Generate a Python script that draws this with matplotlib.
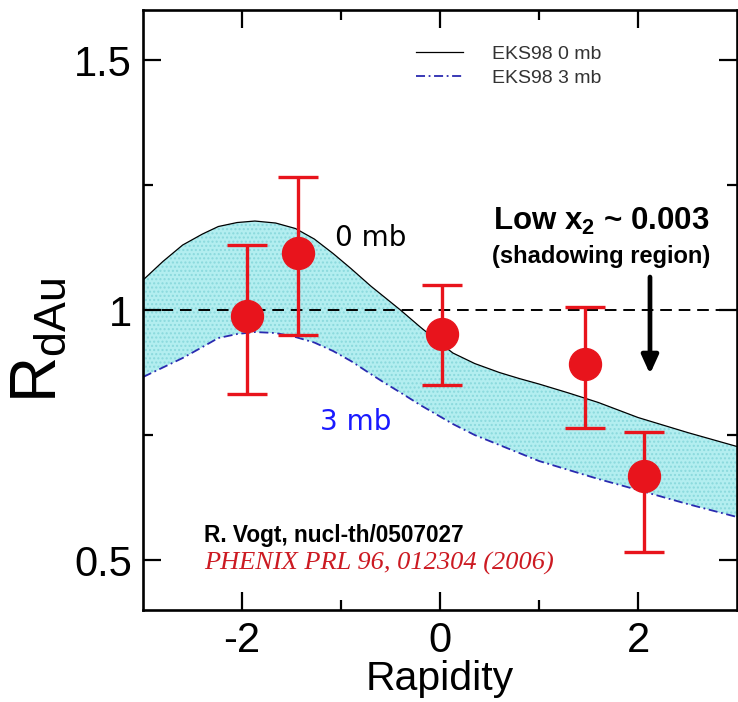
import matplotlib
matplotlib.use("Agg")
import matplotlib.pyplot as plt

# PHENIX J/psi R_dAu vs rapidity
y_data = [-1.95, -1.43, 0.02, 1.46, 2.06]
r_data = [0.988, 1.114, 0.952, 0.892, 0.669]
err_hi = [0.143, 0.152, 0.099, 0.114, 0.088]
err_lo = [0.155, 0.164, 0.102, 0.127, 0.153]

# EKS98 shadowing curves (0 mb and 3 mb absorption)
curve_y = [-3.0, -2.8, -2.6, -2.4, -2.24, -2.05, -1.87, -1.66, -1.46, -1.27, -1.08, -0.9,
           -0.7, -0.55, -0.4, -0.2, 0.0, 0.13, 0.35, 0.6, 0.8, 1.0, 1.3, 1.6, 2.0, 2.5, 3.0]
eks_0mb = [1.06, 1.097, 1.13, 1.152, 1.167, 1.175, 1.178, 1.174, 1.163, 1.142, 1.113, 1.083,
           1.048, 1.024, 1.0, 0.966, 0.934, 0.914, 0.893, 0.875, 0.863, 0.852, 0.834, 0.815,
           0.785, 0.755, 0.727]
eks_3mb = [0.866, 0.885, 0.904, 0.926, 0.944, 0.952, 0.956, 0.954, 0.946, 0.935, 0.918, 0.898,
           0.872, 0.853, 0.835, 0.81, 0.787, 0.772, 0.75, 0.73, 0.714, 0.698, 0.68, 0.662,
           0.64, 0.612, 0.586]

plt.rcParams["font.family"] = ["Liberation Sans", "DejaVu Sans"]
plt.rcParams["axes.unicode_minus"] = False

fig = plt.figure(figsize=(7.38, 7.02), dpi=100)
ax = fig.add_axes([0.1938, 0.131, 0.805, 0.8547])

ax.fill_between(curve_y, eks_3mb, eks_0mb, facecolor="#b3eef0",
                edgecolor="#8ad9dd", hatch="....", linewidth=0, zorder=1)
ax.plot(curve_y, eks_0mb, color="black", lw=0.9, zorder=2, label="EKS98 0 mb")
ax.plot(curve_y, eks_3mb, color="#2a2ab0", lw=1.3, ls=(0, (5, 2, 1, 2)),
        zorder=2, label="EKS98 3 mb")
ax.axhline(1.0, color="black", lw=1.4, ls=(0, (6, 3.5)), zorder=2)

ax.errorbar(y_data, r_data, yerr=[err_lo, err_hi], fmt="o", color="#e8141c",
            ms=23, elinewidth=2.4, capsize=14.5, capthick=2.4, zorder=4)

ax.set_xlim(-3, 3)
ax.set_ylim(0.4, 1.6)
ax.set_xticks([-2, 0, 2])
ax.set_xticks([-1, 1], minor=True)
ax.set_yticks([0.5, 1.0, 1.5])
ax.set_yticklabels(["0.5", "1", "1.5"])
ax.set_yticks([0.75, 1.25], minor=True)
ax.tick_params(which="both", direction="in", top=True, right=True,
               width=1.6, labelsize=30)
ax.tick_params(which="major", length=13, pad=8)
ax.tick_params(which="minor", length=7)
for s in ax.spines.values():
    s.set_linewidth(1.9)

ax.set_xlabel("Rapidity", fontsize=29.5, labelpad=-1)
ax.set_ylabel(r"R$_{\mathregular{dAu}}$", fontsize=46)
ax.yaxis.set_label_coords(-0.125, 0.45)

leg = ax.legend(loc="upper left", bbox_to_anchor=(0.43, 0.97), frameon=False,
                fontsize=14, handlelength=2.4, handletextpad=1.5, labelspacing=0.3)
for t in leg.get_texts():
    t.set_color("#333333")

ax.text(-0.7, 1.145, "0 mb", fontsize=20, color="black", ha="center", va="center",
        family="DejaVu Sans")
ax.text(-0.85, 0.777, "3 mb", fontsize=20, color="#1a1aff", ha="center", va="center",
        family="DejaVu Sans")

ax.text(1.63, 1.178, r"Low x$_{\mathregular{2}}$ ~ 0.003", fontsize=22.5,
        fontweight="bold", ha="center", va="center")
ax.text(1.63, 1.108, "(shadowing region)", fontsize=17, fontweight="bold",
        ha="center", va="center")
ax.annotate("", xy=(2.12, 0.872), xytext=(2.12, 1.066),
            arrowprops=dict(arrowstyle="-|>,head_width=0.5,head_length=1.1",
                            color="black", lw=3.4, shrinkA=0, shrinkB=0))

ax.text(-2.38, 0.55, "R. Vogt, nucl-th/0507027", fontsize=16.3, fontweight="bold",
        ha="left", va="center")
ax.text(-2.38, 0.493, "PHENIX PRL 96, 012304 (2006)", fontsize=19, style="italic",
        color="#cc1a22", ha="left", va="center", family="Liberation Serif")

fig.savefig("out.png", dpi=100)
